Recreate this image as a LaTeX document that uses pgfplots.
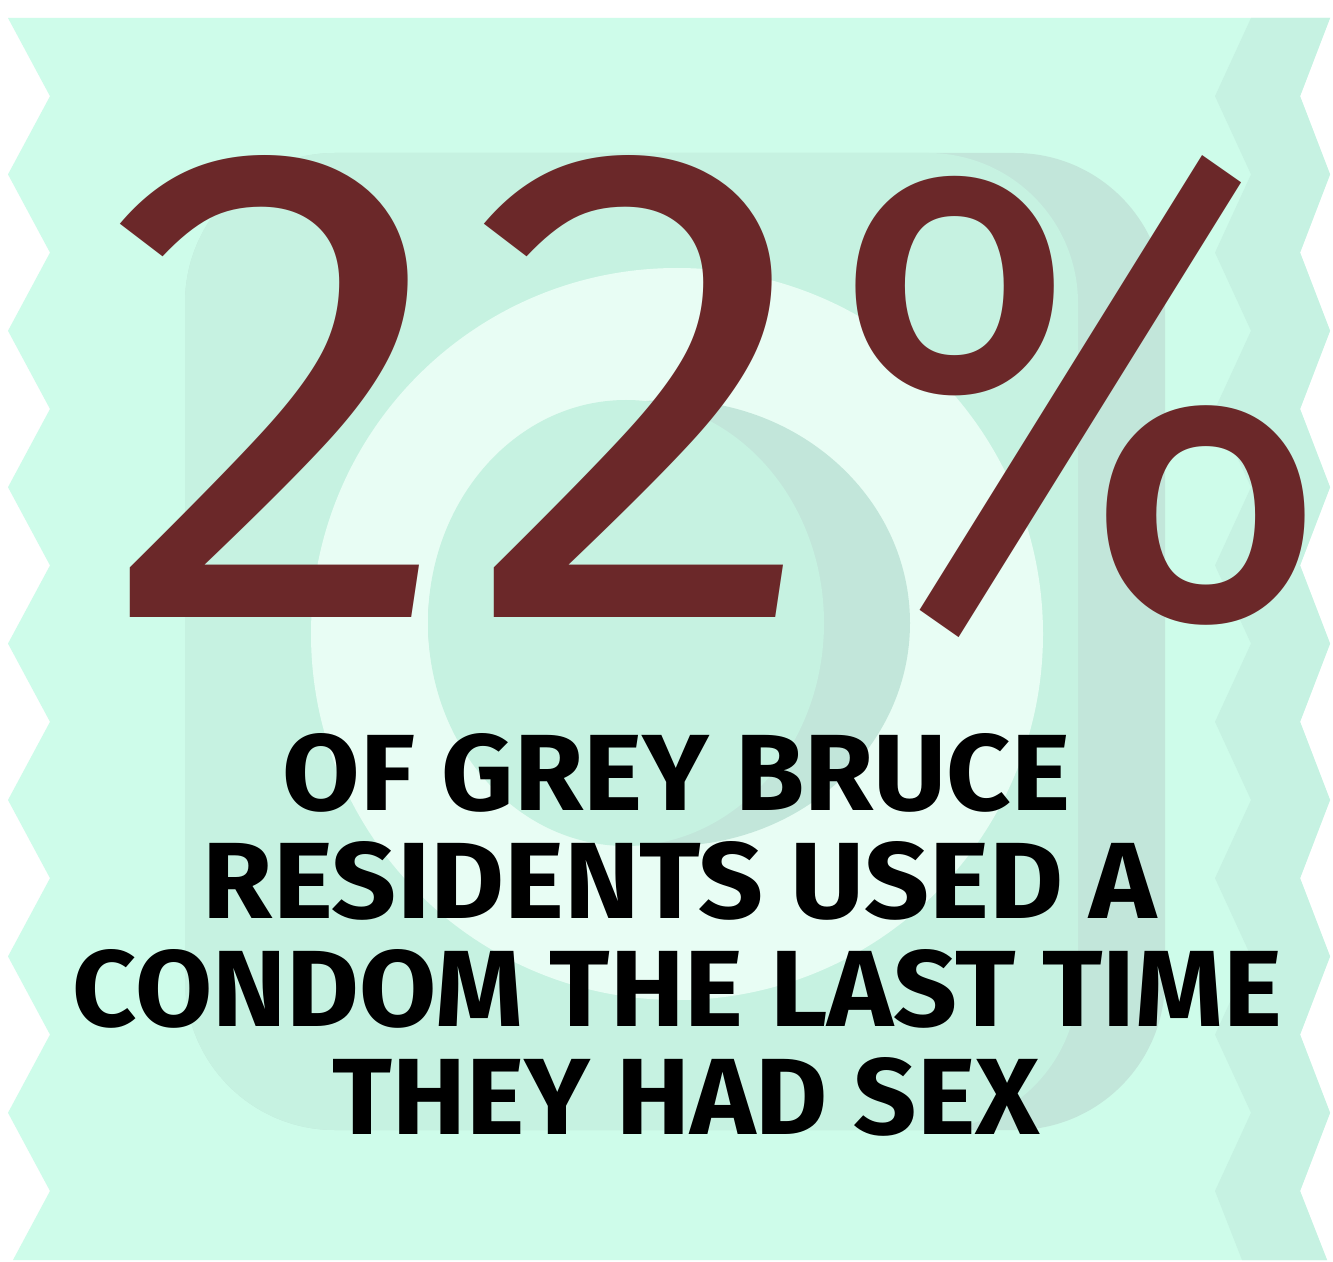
\documentclass[border=0pt]{standalone}
\usepackage{fontspec}
\setmainfont{Fira Sans}
\usepackage{graphicx}
\usepackage{pgfplots}
\pgfplotsset{compat=1.18}
\definecolor{wrap}{HTML}{CEFCEA}
\definecolor{band}{HTML}{C6F2E2}
\definecolor{sq}{HTML}{C6F2E1}
\definecolor{sqdark}{HTML}{C2E6DA}
\definecolor{ring}{HTML}{E8FDF4}
\definecolor{numred}{HTML}{6B2829}
\begin{document}
\begin{tikzpicture}
\begin{axis}[
  scale only axis, width=666.5pt, height=631pt,
  xmin=0, xmax=1333, ymin=0, ymax=1262, y dir=reverse,
  hide axis, clip=false]
% page background
\addplot[fill=white, draw=none] coordinates {(0,0) (1333,0) (1333,1262) (0,1262)} -- cycle;
% wrapper with crimped edges
\addplot[fill=wrap, draw=none] coordinates {
 (8,18) (1330,18)
 (1300,96.2) (1330,174.4) (1300,252.6) (1330,330.8) (1300,409) (1330,487.2)
 (1300,565.4) (1330,643.6) (1300,721.8) (1330,800) (1300,878.2) (1330,956.4)
 (1300,1034.6) (1330,1112.8) (1300,1191) (1327,1260)
 (13,1260)
 (50,1191) (8,1112.8) (50,1034.6) (8,956.4) (50,878.2) (8,800) (50,721.8)
 (8,643.6) (50,565.4) (8,487.2) (50,409) (8,330.8) (50,252.6) (8,174.4) (50,96.2)
} -- cycle;
% darker crimped strip on the right
\addplot[fill=band, draw=none] coordinates {
 (1251,18) (1330,18)
 (1300,96.2) (1330,174.4) (1300,252.6) (1330,330.8) (1300,409) (1330,487.2)
 (1300,565.4) (1330,643.6) (1300,721.8) (1330,800) (1300,878.2) (1330,956.4)
 (1300,1034.6) (1330,1112.8) (1300,1191) (1327,1260)
 (1242,1260)
 (1215,1191) (1251,1112.8) (1215,1034.6) (1251,956.4) (1215,878.2) (1251,800)
 (1215,721.8) (1251,643.6) (1215,565.4) (1251,487.2) (1215,409) (1251,330.8)
 (1215,252.6) (1251,174.4) (1215,96.2)
} -- cycle;
% condom package square
\fill[sqdark, rounded corners=75pt] (axis cs:185,153) rectangle (axis cs:1165,1130);
\fill[sq, rounded corners=75pt] (axis cs:185,153) rectangle (axis cs:1078,1130);
% ring
\fill[ring] (axis cs:677,634) ellipse [x radius=183pt, y radius=183pt];
\fill[sqdark] (axis cs:669,623) ellipse [x radius=120.5pt, y radius=111.5pt];
\fill[sq] (axis cs:626,623) ellipse [x radius=99pt, y radius=111.5pt];
% big number: 22%
\node[overlay, anchor=base west, inner sep=0pt, text=numred] at (axis cs:102,617)
  {\resizebox{176.3pt}{231pt}{\fontsize{335}{335}\selectfont 2}};
\node[overlay, anchor=base west, inner sep=0pt, text=numred] at (axis cs:466,617)
  {\resizebox{176.3pt}{231pt}{\fontsize{335}{335}\selectfont 2}};
\node[overlay, anchor=base west, inner sep=0pt, text=numred] at (axis cs:828,617)
  {\resizebox{252pt}{231pt}{\fontsize{335}{335}\selectfont \%}};
% caption
\node[overlay, anchor=base, inner sep=0pt] at (axis cs:676.5,810)
  {\resizebox{393.5pt}{38.5pt}{\bfseries\fontsize{56}{56}\selectfont OF GREY BRUCE}};
\node[overlay, anchor=base, inner sep=0pt] at (axis cs:680,918)
  {\resizebox{477pt}{38.5pt}{\bfseries\fontsize{56}{56}\selectfont RESIDENTS USED A}};
\node[overlay, anchor=base, inner sep=0pt] at (axis cs:677.5,1026)
  {\resizebox{604.5pt}{38.5pt}{\bfseries\fontsize{56}{56}\selectfont CONDOM THE LAST TIME}};
\node[overlay, anchor=base, inner sep=0pt] at (axis cs:686.5,1134)
  {\resizebox{353.5pt}{38.5pt}{\bfseries\fontsize{56}{56}\selectfont THEY HAD SEX}};
\end{axis}
\end{tikzpicture}
\end{document}
